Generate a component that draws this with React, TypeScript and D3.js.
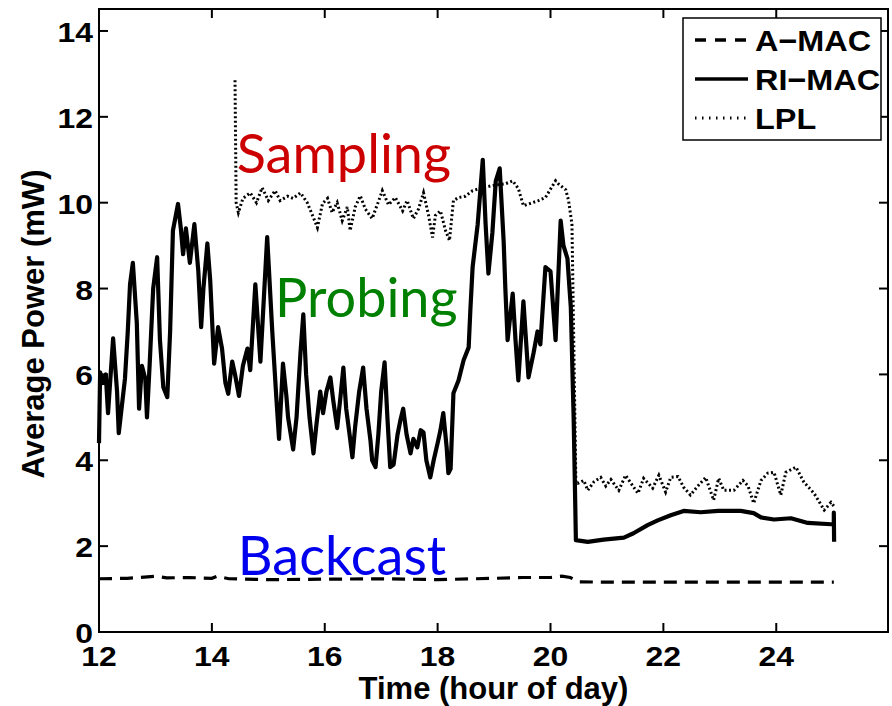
import React from "react";
import * as d3 from "d3";

// ---- data (time in hours of day, power in mW) ----
const riTime = [12.00,12.02,12.07,12.12,12.16,12.25,12.32,12.35,12.46,12.51,12.55,12.60,12.67,12.71,12.76,12.82,12.85,12.90,12.96,13.03,13.08,13.14,13.21,13.26,13.31,13.40,13.45,13.49,13.54,13.61,13.69,13.76,13.81,13.85,13.92,13.97,14.04,14.11,14.18,14.24,14.29,14.36,14.41,14.48,14.55,14.63,14.68,14.77,14.86,14.98,15.07,15.14,15.19,15.26,15.32,15.35,15.44,15.50,15.57,15.62,15.67,15.73,15.80,15.85,15.92,15.97,16.03,16.10,16.15,16.22,16.28,16.33,16.38,16.44,16.49,16.54,16.61,16.68,16.74,16.81,16.84,16.90,16.95,17.00,17.06,17.11,17.16,17.22,17.29,17.34,17.39,17.45,17.52,17.57,17.64,17.70,17.75,17.80,17.87,17.93,18.00,18.05,18.10,18.16,18.19,18.23,18.28,18.37,18.46,18.55,18.58,18.62,18.71,18.80,18.85,18.90,18.97,19.03,19.10,19.17,19.20,19.24,19.33,19.38,19.43,19.52,19.61,19.70,19.77,19.82,19.91,20.00,20.09,20.18,20.23,20.30,20.36,20.41,20.45,20.66,20.94,21.30,21.47,21.72,21.90,22.13,22.36,22.66,22.97,23.37,23.60,23.73,23.96,24.26,24.56,24.97,25.02,25.02,25.025];
const riPower = [4.4,6.05,5.8,6.0,5.1,6.84,5.6,4.63,5.9,7.0,8.1,8.6,7.2,5.2,6.2,5.9,5.0,6.3,8.0,8.73,6.8,5.7,5.47,7.0,9.35,9.97,9.4,8.8,9.4,8.6,9.5,8.4,7.1,8.0,9.05,8.2,6.25,7.1,6.6,5.8,5.55,6.3,6.0,5.5,6.2,6.6,6.1,8.1,6.3,9.2,7.0,5.5,4.5,6.25,5.5,5.0,4.25,5.0,6.5,7.4,6.0,5.0,4.16,4.8,5.6,5.1,5.6,5.93,5.4,4.75,5.5,6.16,5.2,4.6,4.07,4.8,5.6,6.16,5.2,4.46,4.0,3.84,4.6,5.6,6.28,5.0,3.84,3.9,4.6,4.93,5.2,4.6,4.16,4.5,4.3,4.7,4.65,4.0,3.6,4.0,4.4,4.7,5.1,4.3,3.7,3.8,5.56,5.86,6.33,6.63,7.5,8.5,9.5,11.0,9.5,8.35,9.3,10.5,10.8,9.1,8.0,6.8,7.88,6.8,5.86,7.7,5.93,6.5,7.0,6.7,8.5,8.4,6.8,9.58,9.0,8.7,7.56,5.0,2.14,2.1,2.15,2.2,2.3,2.49,2.6,2.72,2.82,2.79,2.82,2.82,2.77,2.67,2.62,2.65,2.54,2.51,2.51,2.78,2.1];

const lplTime = [14.41,14.43,14.47,14.55,14.68,14.79,14.89,15.00,15.12,15.21,15.34,15.44,15.57,15.69,15.80,15.87,15.96,16.05,16.13,16.22,16.31,16.40,16.45,16.54,16.63,16.72,16.84,16.93,17.02,17.13,17.25,17.38,17.46,17.57,17.66,17.75,17.84,17.91,17.96,18.05,18.14,18.21,18.28,18.37,18.49,18.62,18.80,18.97,19.20,19.33,19.43,19.52,19.68,19.79,19.91,20.09,20.14,20.27,20.32,20.38,20.45,20.48,20.59,20.66,20.77,20.89,20.98,21.07,21.21,21.33,21.46,21.55,21.65,21.81,21.92,22.04,22.13,22.26,22.36,22.48,22.61,22.75,22.89,22.98,23.07,23.25,23.41,23.50,23.60,23.73,23.85,23.96,24.08,24.17,24.35,24.49,24.67,24.85,24.97,25.04];
const lplPower = [12.85,10.0,9.77,10.1,10.23,10.0,10.35,10.05,10.28,10.05,10.15,10.1,10.23,10.0,9.65,9.42,9.98,10.1,9.77,10.0,9.58,9.9,9.35,9.9,10.16,9.85,9.63,9.95,10.28,9.95,10.12,9.81,10.05,9.63,9.85,10.23,9.7,9.19,9.7,9.81,9.35,9.12,10.05,10.12,10.15,10.28,10.35,10.4,10.44,10.51,10.33,9.93,10.0,10.05,10.12,10.51,10.44,10.3,10.05,9.5,3.46,3.46,3.53,3.3,3.5,3.6,3.4,3.55,3.3,3.65,3.4,3.23,3.58,3.35,3.65,3.26,3.6,3.62,3.37,3.19,3.4,3.6,3.07,3.58,3.3,3.3,3.53,3.4,3.0,3.53,3.7,3.72,3.19,3.72,3.84,3.49,3.23,2.84,3.02,2.9];

const amacTime = [12.0,12.5,13.0,13.2,13.6,14.0,14.1,14.3,15.0,16.0,17.0,18.0,19.0,19.5,20.0,20.2,20.35,20.5,21.0,25.02];
const amacPower = [1.24,1.25,1.3,1.26,1.27,1.25,1.3,1.24,1.22,1.23,1.24,1.22,1.25,1.27,1.27,1.3,1.27,1.17,1.16,1.16];

const xTicks = [12, 14, 16, 18, 20, 22, 24];
const yTicks = [0, 2, 4, 6, 8, 10, 12, 14];
const legendLabels = ["A\u2212MAC", "RI\u2212MAC", "LPL"];
const annotations = [
  { text: "Sampling", color: "#cc0000", t: 14.44, v: 10.7 },
  { text: "Probing", color: "#008000", t: 15.12, v: 7.33 },
  { text: "Backcast", color: "#0000ee", t: 14.46, v: 1.33 },
];

const W = 892, H = 706;
const L = 99, R = 888, T = 9, B = 632;

export default function App() {
  const x = d3.scaleLinear().domain([12, 25.98]).range([L, R]);
  const y = d3.scaleLinear().domain([0, 14.5]).range([B, T + 0.5]);
  const line = (ts: number[], vs: number[]) =>
    d3.line<number>().x((_, i) => x(ts[i])).y((d) => y(d))(vs) || "";

  const fontMain = "'Liberation Sans', Arial, Helvetica, sans-serif";

  return (
    <svg width={W} height={H} style={{ position: "absolute", left: 0, top: 0, background: "#fff" }}>
      <rect x={0} y={0} width={W} height={H} fill="#fff" />
      {/* series */}
      <path d={line(amacTime, amacPower)} fill="none" stroke="#000" strokeWidth={3.2} strokeDasharray="13 8" />
      <path d={line(lplTime, lplPower)} fill="none" stroke="#000" strokeWidth={3} strokeDasharray="2 2.5" />
      <path d={line(riTime, riPower)} fill="none" stroke="#000" strokeWidth={4.2} strokeLinejoin="round" />

      {/* frame */}
      <rect x={L} y={T} width={R - L} height={B - T} fill="none" stroke="#000" strokeWidth={2} />
      {xTicks.map((t) => (
        <g key={"xt" + t}>
          <line x1={x(t)} x2={x(t)} y1={B} y2={B - 9} stroke="#000" strokeWidth={2} />
          <line x1={x(t)} x2={x(t)} y1={T} y2={T + 9} stroke="#000" strokeWidth={2} />
          <text x={x(t)} y={666} textAnchor="middle" fontFamily={fontMain} fontWeight="bold" fontSize={28}
            transform={`translate(${x(t)},0) scale(1.14,1) translate(${-x(t)},0)`}>{t}</text>
        </g>
      ))}
      {yTicks.map((v) => (
        <g key={"yt" + v}>
          <line x1={L} x2={L + 9} y1={y(v)} y2={y(v)} stroke="#000" strokeWidth={2} />
          <line x1={R} x2={R - 9} y1={y(v)} y2={y(v)} stroke="#000" strokeWidth={2} />
          <text x={93} y={y(v) + 11} textAnchor="end" fontFamily={fontMain} fontWeight="bold" fontSize={28}
            transform={`translate(93,0) scale(1.14,1) translate(-93,0)`}>{v}</text>
        </g>
      ))}

      {/* axis labels */}
      <text x={(L + R) / 2} y={699} textAnchor="middle" fontFamily={fontMain} fontWeight="bold" fontSize={31}>Time (hour of day)</text>
      <text transform={`translate(44,324) rotate(-90)`} textAnchor="middle" fontFamily={fontMain} fontWeight="bold" fontSize={31}>Average Power (mW)</text>

      {/* legend */}
      <rect x={683} y={18} width={198} height={122} fill="#fff" stroke="#000" strokeWidth={1.5} />
      {legendLabels.map((lab, i) => {
        const ly = [40, 79, 118][i];
        return (
          <g key={lab}>
            <line x1={695} x2={748} y1={ly} y2={ly} stroke="#000" strokeWidth={i === 2 ? 3 : 3.5}
              strokeDasharray={i === 0 ? "11 9" : i === 2 ? "1.5 5.5" : "none"} />
            <text x={755} y={ly + 11} fontFamily={fontMain} fontWeight="bold" fontSize={30}
              transform={`translate(755,0) scale(1.08,1) translate(-755,0)`}>{lab}</text>
          </g>
        );
      })}

      {/* annotations */}
      {annotations.map((a) => (
        <text key={a.text} x={x(a.t)} y={y(a.v)} fill={a.color} fontFamily="Lato, 'Open Sans', sans-serif" fontSize={54}>{a.text}</text>
      ))}
    </svg>
  );
}
